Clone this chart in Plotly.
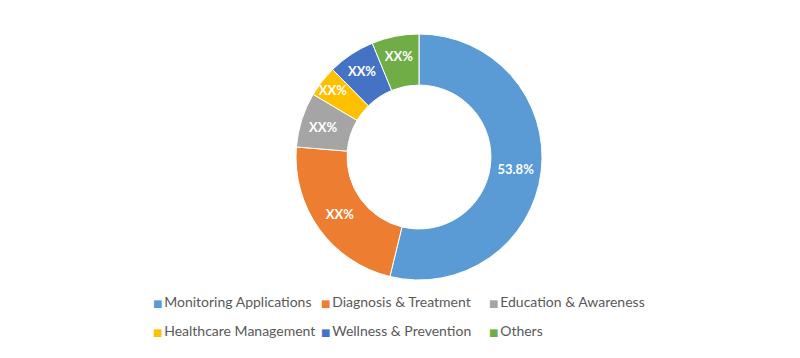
import plotly.graph_objects as go

categories = ["Monitoring Applications", "Diagnosis & Treatment", "Education & Awareness",
              "Healthcare Management", "Wellness & Prevention", "Others"]
values = [53.8, 22.5, 7.2, 4.1, 6.2, 6.2]
slice_labels = ["53.8%", "XX%", "XX%", "XX%", "XX%", "XX%"]
colors = ["#5B9BD5", "#ED7D31", "#A5A5A5", "#FFC000", "#4472C4", "#70AD47"]

W, H = 800, 358
OFF = 8  # page body margin offset
cx, cy, r = 419 - OFF, 157 - OFF, 123

fig = go.Figure()
fig.add_trace(go.Pie(
    labels=categories, values=values, text=slice_labels,
    textinfo="text", textposition="inside", insidetextorientation="horizontal",
    sort=False, direction="clockwise", rotation=0, hole=0.585,
    marker=dict(colors=colors, line=dict(color="white", width=1)),
    textfont=dict(family="Lato", size=13, color="white", weight="bold"),
    domain=dict(x=[(cx - r) / W, (cx + r) / W], y=[1 - (cy + r) / H, 1 - (cy - r) / H]),
    showlegend=False, hoverinfo="label+percent",
))

# legend swatch start positions (page px) and row centres
col_x = [153 - OFF, 321 - OFF, 489 - OFF]
row_y = [302 - OFF, 331 - OFF]

legends = {}
for i, (cat, col) in enumerate(zip(categories, colors)):
    key = "legend" if i == 0 else f"legend{i + 1}"
    label = (f"<span style='color:{col};font-family:DejaVu Sans;font-size:10px'>\u25A0</span>"
             f"\u2009{cat}")
    fig.add_trace(go.Scatter(
        x=[None], y=[None], mode="markers", name=label,
        marker=dict(symbol="square", size=0.1, color="rgba(0,0,0,0)"),
        legend=key, showlegend=True,
    ))
    legends[key] = dict(
        orientation="h", xanchor="left", yanchor="middle",
        x=(col_x[i % 3] - 40) / W, y=1 - row_y[i // 3] / H,
        font=dict(family="Lato", size=14, color="#595959"),
        bgcolor="rgba(0,0,0,0)",
    )

fig.update_layout(
    width=W, height=H,
    margin=dict(l=0, r=0, t=0, b=0),
    paper_bgcolor="white", plot_bgcolor="white",
    xaxis=dict(visible=False), yaxis=dict(visible=False),
    uniformtext=dict(minsize=13, mode="show"),
    **legends,
)

fig.write_html("out.html")
